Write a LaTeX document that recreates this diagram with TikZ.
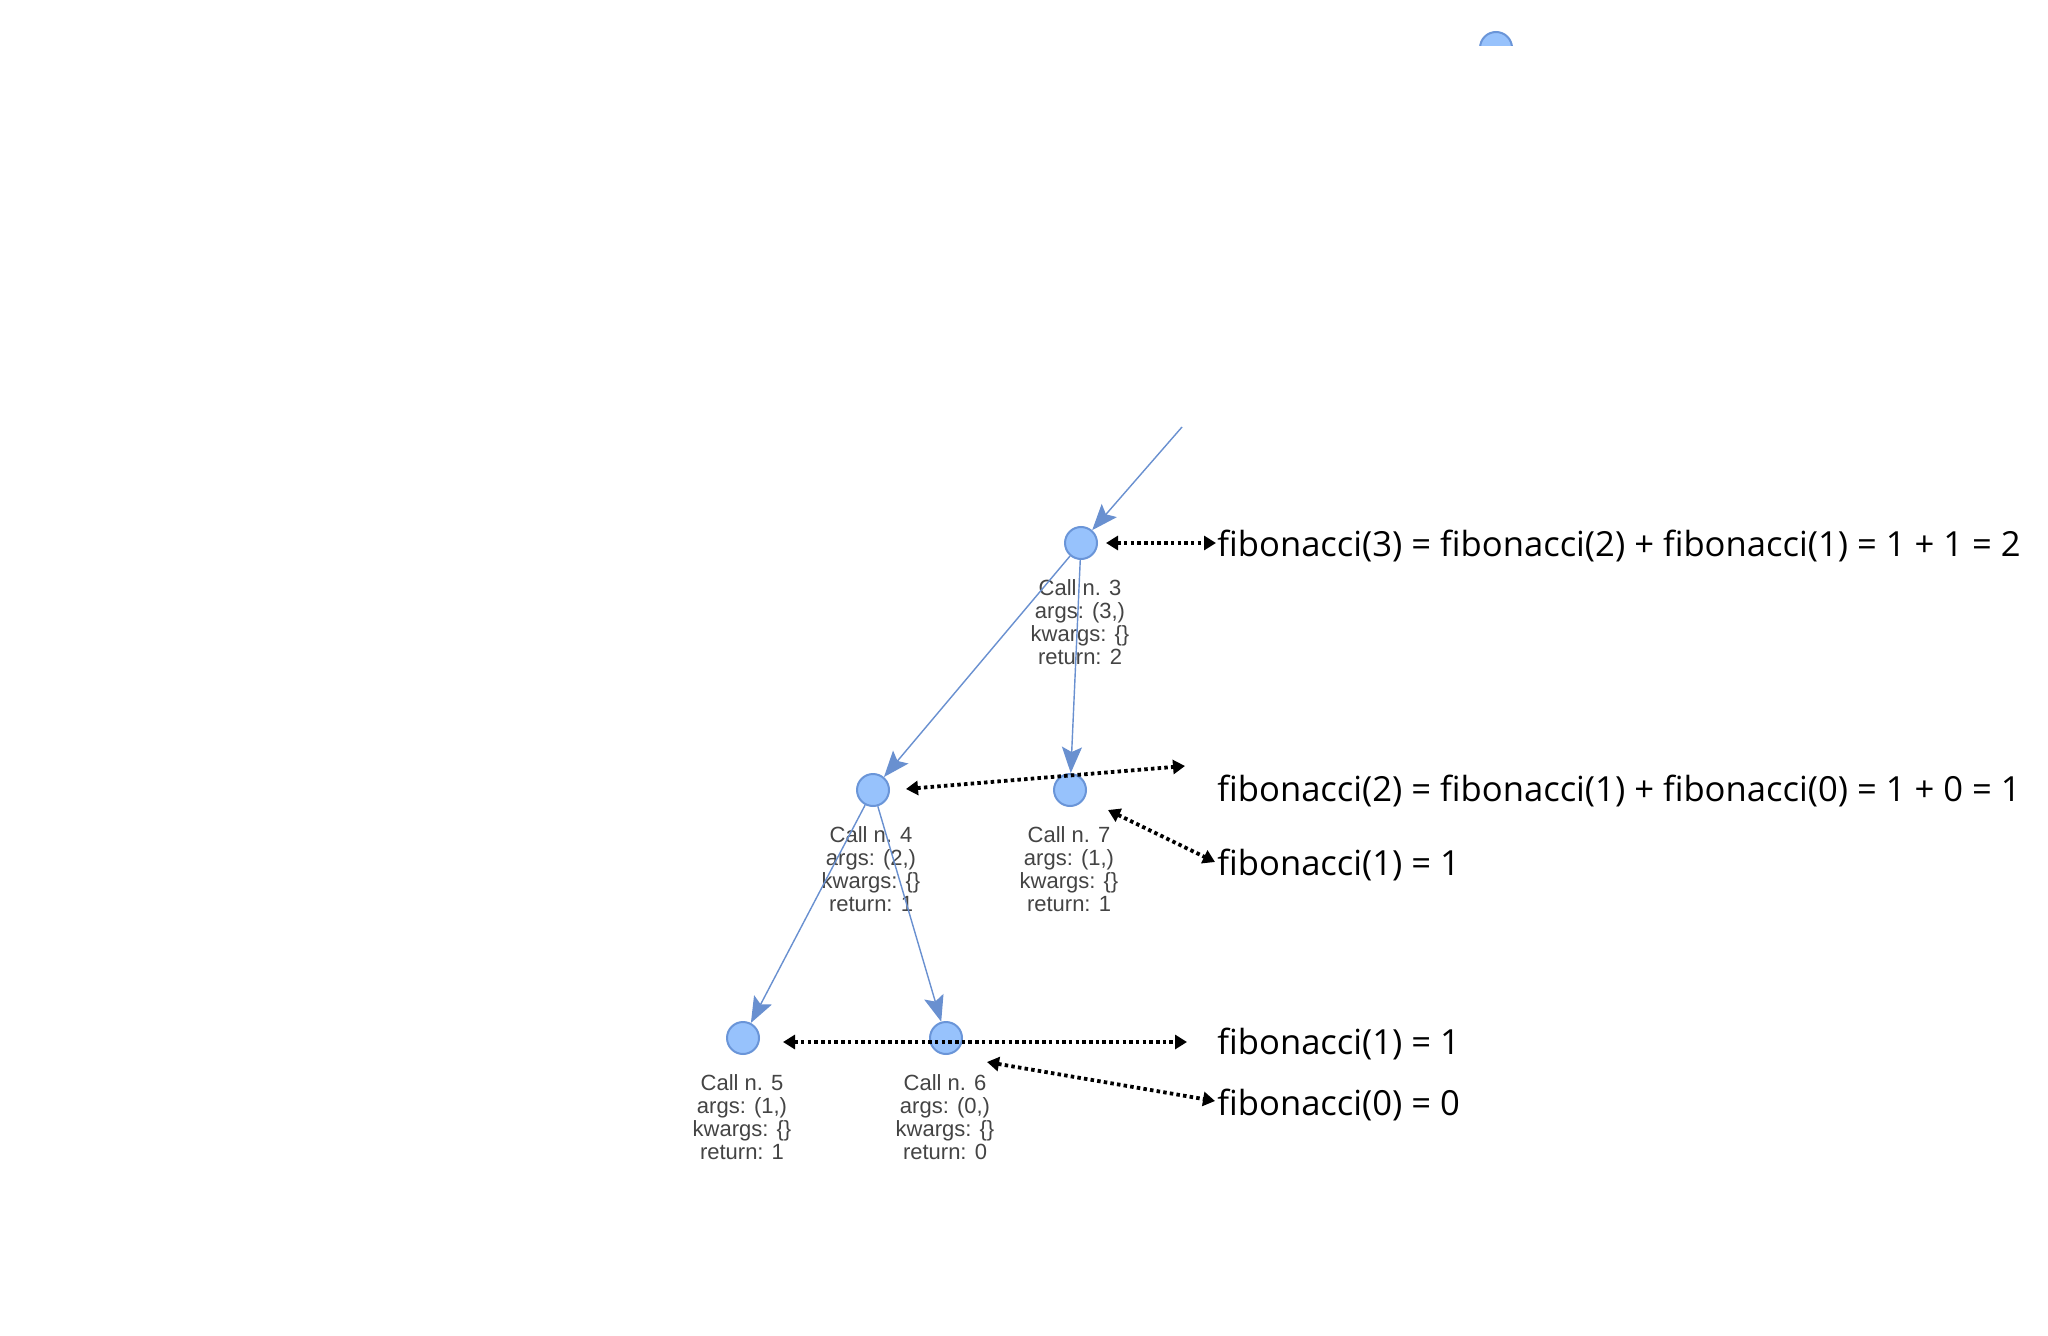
\documentclass[tikz,border=0pt]{standalone}
\usepackage{fontspec}
\usetikzlibrary{arrows.meta}
\newfontfamily\annfont{Open Sans}
\newfontfamily\labfont{Liberation Sans}
\definecolor{nodefill}{HTML}{97C2FC}
\definecolor{nodeline}{HTML}{6A95D8}
\definecolor{edgeblue}{HTML}{6990D0}
\definecolor{labgray}{HTML}{444444}
\begin{document}
\begin{tikzpicture}[x=0.5pt,y=-0.5pt,
  call/.style={circle, draw=nodeline, fill=nodefill, line width=1pt, minimum size=16pt, inner sep=0pt},
  calllabel/.style={anchor=north, inner sep=0pt, align=center, text=labgray,
    font=\labfont\fontsize{11}{11.5}\selectfont},
  edge/.style={draw=edgeblue, line width=0.7pt, -{Stealth[length=13pt,width=10pt,inset=2.5pt]}},
  note/.style={anchor=base west, inner sep=0pt, font=\annfont\fontsize{17.3}{20}\selectfont},
  link/.style={line width=1.9pt, dash pattern=on 1.75pt off 1.6pt,
    {Triangle[length=6pt,width=7pt]}-{Triangle[length=6pt,width=7pt]}}
]
% canvas
\path[fill=white] (0,0) rectangle (2048,1336);
\useasboundingbox (0,0) rectangle (2048,1336);

% root call, cut off at the top edge of the view
\begin{scope}
  \clip (1400,0) rectangle (1600,46);
  \node[call] (top) at (1496,48) {};
\end{scope}

% call nodes
\node[call] (n3) at (1081,543) {};
\node[call] (n4) at (873,790) {};
\node[call] (n7) at (1070,790) {};
\node[call] (n5) at (743,1038) {};
\node[call] (n6) at (946,1038) {};

% call details
\node[calllabel] (l3) at (1080,579) {Call n. 3\\args: (3,)\\kwargs: \{\}\\return: 2};
\node[calllabel] (l4) at (871,826) {Call n. 4\\args: (2,)\\kwargs: \{\}\\return: 1};
\node[calllabel] (l7) at (1069,826) {Call n. 7\\args: (1,)\\kwargs: \{\}\\return: 1};
\node[calllabel] (l5) at (742,1074) {Call n. 5\\args: (1,)\\kwargs: \{\}\\return: 1};
\node[calllabel] (l6) at (945,1074) {Call n. 6\\args: (0,)\\kwargs: \{\}\\return: 0};

% recursion edges
\coordinate (in3) at (1182,427);
\draw[edge] (in3) -- (n3);
\draw[edge] (n3) -- (n4);
\draw[edge] (n3) -- (n7);
\draw[edge] (n4) -- (n5);
\draw[edge] (n4) -- (n6);

% explanations
\node[note] (f3) at (1217,556) {fibonacci(3) = fibonacci(2) + fibonacci(1) = 1 + 1 = 2};
\node[note] (f2) at (1217,801) {fibonacci(2) = fibonacci(1) + fibonacci(0) = 1 + 0 = 1};
\node[note] (f1a) at (1217,875) {fibonacci(1) = 1};
\node[note] (f1b) at (1217,1054) {fibonacci(1) = 1};
\node[note] (f0) at (1217,1115) {fibonacci(0) = 0};

% dotted links between calls and explanations
\coordinate (a3s) at (1106,543);  \coordinate (a3e) at (1216,543);
\coordinate (a2s) at (906,789);   \coordinate (a2e) at (1185,766);
\coordinate (a7s) at (1108,810);  \coordinate (a7e) at (1215,862);
\coordinate (a5s) at (783,1042);  \coordinate (a5e) at (1187,1042);
\coordinate (a6s) at (987,1062);  \coordinate (a6e) at (1215,1101);
\draw[link] (a3s) -- (a3e);
\draw[link] (a2s) -- (a2e);
\draw[link] (a7s) -- (a7e);
\draw[link] (a5s) -- (a5e);
\draw[link] (a6s) -- (a6e);
\end{tikzpicture}
\end{document}
